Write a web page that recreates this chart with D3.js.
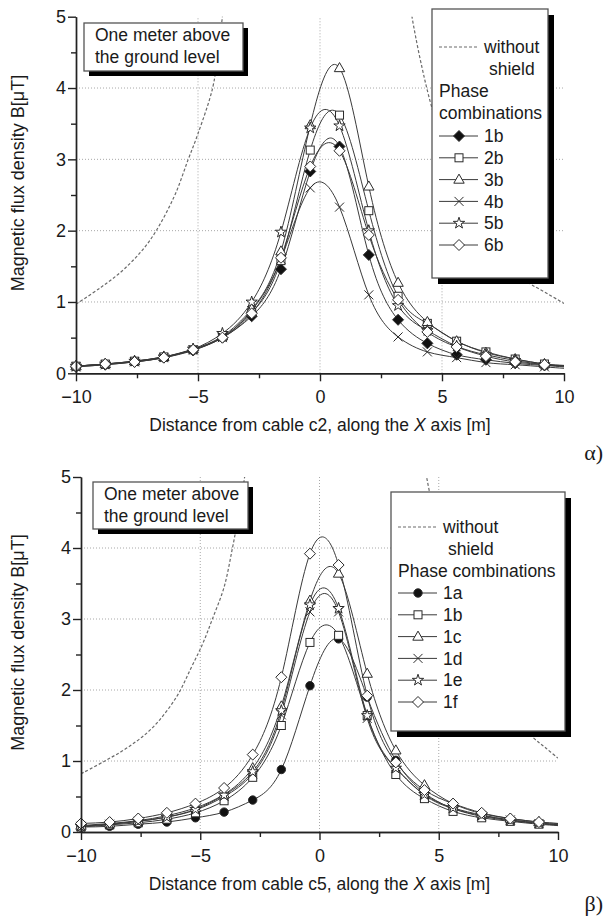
<!DOCTYPE html>
<html lang="en">
<head>
  <meta charset="UTF-8">
  <title>Magnetic flux density</title>
  <script src="https://d3js.org/d3.v7.min.js"></script>
  <style>
    body { margin: 0; background: #fff; }
    text { font-family: "Liberation Sans", Arial, sans-serif; fill: #1a1a1a; }
    .grid line { stroke: #a8a8a8; stroke-dasharray: 1,2; }
    .axis path, .axis line { stroke: #222; stroke-width: 1.4; }
    .axis text { font-size: 18px; }
    .series { fill: none; stroke: #3a3a3a; stroke-width: 1; }
    .noshield { fill: none; stroke: #6a6a6a; stroke-width: 1.2; stroke-dasharray: 3,2; }
    .mark { stroke: #2a2a2a; stroke-width: 1; }
    .letter { font-family: "Liberation Serif", "Times New Roman", serif; font-size: 22px; }
  </style>
</head>
<body>
  <svg width="605" height="919"></svg>
  <script>
    // x positions of the computed points (markers everywhere but the last one)
    const xs = [-10, -8.8, -7.6, -6.4, -5.2, -4.0, -2.8, -1.6, -0.4, 0.8, 2.0, 3.2, 4.4, 5.6, 6.8, 8.0, 9.2, 10];

    // panel α : cable c2
    const namesA = ['1b', '2b', '3b', '4b', '5b', '6b'];
    const symA = ['diamondFill', 'square', 'triangle', 'cross', 'star', 'diamond'];
    const s1b = [0.09, 0.12, 0.16, 0.22, 0.32, 0.50, 0.80, 1.46, 2.83, 3.18, 1.66, 0.75, 0.42, 0.26, 0.19, 0.14, 0.11, 0.09];
    const s2b = [0.10, 0.13, 0.17, 0.23, 0.33, 0.51, 0.85, 1.58, 3.13, 3.62, 2.28, 1.08, 0.70, 0.45, 0.30, 0.20, 0.13, 0.11];
    const s3b = [0.10, 0.13, 0.17, 0.23, 0.34, 0.52, 0.90, 1.71, 3.48, 4.28, 2.62, 1.27, 0.72, 0.45, 0.29, 0.20, 0.13, 0.11];
    const s4b = [0.09, 0.12, 0.16, 0.22, 0.33, 0.50, 0.88, 1.60, 2.60, 2.33, 1.10, 0.51, 0.30, 0.22, 0.15, 0.12, 0.09, 0.07];
    const s5b = [0.10, 0.13, 0.17, 0.23, 0.34, 0.56, 1.00, 1.98, 3.44, 3.47, 2.00, 0.95, 0.60, 0.38, 0.26, 0.18, 0.12, 0.10];
    const s6b = [0.10, 0.13, 0.16, 0.22, 0.33, 0.50, 0.84, 1.62, 2.90, 3.12, 1.94, 1.03, 0.58, 0.37, 0.24, 0.16, 0.12, 0.10];
    // unshielded curve, two visible branches
    const nsA_leftX = [-10, -9, -8, -7, -6, -5.4, -5, -4.4, -4.2, -4.0, -3.85];
    const nsA_leftY = [0.97, 1.2, 1.47, 1.85, 2.46, 3.0, 3.36, 4.0, 4.45, 5.0, 5.5];
    const nsA_rightX = [3.6, 3.77, 4.5, 5, 6, 7, 8, 8.6, 9, 10];
    const nsA_rightY = [5.5, 5.0, 3.83, 3.3, 2.5, 1.9, 1.5, 1.26, 1.18, 0.98];

    // panel β : cable c5
    const namesB = ['1a', '1b', '1c', '1d', '1e', '1f'];
    const symB = ['circleFill', 'square', 'triangle', 'cross', 'star', 'diamond'];
    const s1a = [0.07, 0.08, 0.11, 0.14, 0.20, 0.28, 0.45, 0.88, 2.06, 2.72, 1.90, 1.01, 0.55, 0.33, 0.22, 0.16, 0.12, 0.10];
    const s1bB = [0.07, 0.10, 0.13, 0.18, 0.27, 0.44, 0.77, 1.50, 2.67, 2.77, 1.64, 0.81, 0.47, 0.29, 0.20, 0.15, 0.11, 0.09];
    const s1c = [0.09, 0.12, 0.16, 0.23, 0.34, 0.53, 0.90, 1.77, 3.26, 3.64, 2.23, 1.15, 0.66, 0.40, 0.26, 0.19, 0.14, 0.12];
    const s1d = [0.08, 0.11, 0.15, 0.21, 0.31, 0.50, 0.82, 1.65, 3.10, 3.10, 1.60, 0.90, 0.52, 0.33, 0.23, 0.17, 0.12, 0.10];
    const s1e = [0.08, 0.11, 0.15, 0.21, 0.32, 0.52, 0.85, 1.71, 3.20, 3.15, 1.64, 0.90, 0.53, 0.34, 0.24, 0.17, 0.13, 0.10];
    const s1f = [0.12, 0.14, 0.19, 0.27, 0.40, 0.62, 1.09, 2.18, 3.92, 3.76, 1.92, 0.98, 0.59, 0.40, 0.27, 0.19, 0.14, 0.12];
    const nsB_leftX = [-10, -9, -8, -7, -6, -5.4, -4.9, -4.49, -4.0, -3.65, -3.4, -3.14, -2.95];
    const nsB_leftY = [0.82, 1.0, 1.2, 1.47, 1.9, 2.3, 2.65, 3.0, 3.45, 4.0, 4.45, 5.0, 5.5];
    const nsB_rightX = [4.3, 4.49, 5, 6, 7, 8, 8.93, 9.5, 10];
    const nsB_rightY = [5.4, 5.0, 4.2, 3.0, 2.2, 1.7, 1.34, 1.18, 1.04];

    const xTicks = [-10, -5, 0, 5, 10];
    const xMinor = [-7.5, -2.5, 2.5, 7.5];
    const yTicks = [0, 1, 2, 3, 4, 5];
    const yMinor = [0.5, 1.5, 2.5, 3.5, 4.5];

    const svg = d3.select('svg');

    const panels = [
      {
        id: 'a', x0: 76, x1: 564, y0: 373.3, y1: 16.7,
        series: [s1b, s2b, s3b, s4b, s5b, s6b], names: namesA, sym: symA,
        ns: [[nsA_leftX, nsA_leftY], [nsA_rightX, nsA_rightY]],
        xTitle: ['Distance from cable c2, along the ', 'X', ' axis [m]'], letter: 'α)', letterY: 452,
        note: { x: 84, y: 23, w: 159, h: 48 },
        legend: { x: 432, y: 9, w: 116, h: 269, wide: false }
      },
      {
        id: 'b', x0: 81, x1: 558, y0: 832, y1: 477,
        series: [s1a, s1bB, s1c, s1d, s1e, s1f], names: namesB, sym: symB,
        ns: [[nsB_leftX, nsB_leftY], [nsB_rightX, nsB_rightY]],
        xTitle: ['Distance from cable c5, along the ', 'X', ' axis [m]'], letter: 'β)', letterY: 903,
        note: { x: 93, y: 482, w: 155, h: 47 },
        legend: { x: 391, y: 492, w: 174, h: 239, wide: true }
      }
    ];

    function drawMarker(g, type, cx, cy) {
      const t = `translate(${cx},${cy})`;
      if (type === 'diamond' || type === 'diamondFill') {
        g.append('path').attr('class', 'mark').attr('transform', t)
          .attr('d', 'M0,-5.5L5.5,0L0,5.5L-5.5,0Z')
          .attr('fill', type === 'diamondFill' ? '#111' : '#fff');
      } else if (type === 'square') {
        g.append('rect').attr('class', 'mark').attr('x', cx - 4).attr('y', cy - 4)
          .attr('width', 8).attr('height', 8).attr('fill', '#fff');
      } else if (type === 'triangle') {
        g.append('path').attr('class', 'mark').attr('transform', t)
          .attr('d', 'M0,-5.5L5.2,3.6L-5.2,3.6Z').attr('fill', '#fff');
      } else if (type === 'cross') {
        g.append('path').attr('class', 'mark').attr('transform', t)
          .attr('d', 'M-4.5,-4.5L4.5,4.5M-4.5,4.5L4.5,-4.5').attr('fill', 'none');
      } else if (type === 'star') {
        g.append('path').attr('class', 'mark').attr('transform', t)
          .attr('d', d3.symbol(d3.symbolStar, 40)()).attr('fill', '#fff');
      } else if (type === 'circleFill') {
        g.append('circle').attr('class', 'mark').attr('cx', cx).attr('cy', cy)
          .attr('r', 4.2).attr('fill', '#111');
      }
    }

    panels.forEach(p => {
      const x = d3.scaleLinear().domain([-10, 10]).range([p.x0, p.x1]);
      const y = d3.scaleLinear().domain([0, 5]).range([p.y0, p.y1]);
      const g = svg.append('g');

      g.append('clipPath').attr('id', 'clip-' + p.id)
        .append('rect').attr('x', p.x0).attr('y', p.y1)
        .attr('width', p.x1 - p.x0).attr('height', p.y0 - p.y1);

      // dotted grid
      const grid = g.append('g').attr('class', 'grid');
      grid.selectAll('.gx').data([-5, 0, 5]).enter().append('line')
        .attr('x1', d => x(d)).attr('x2', d => x(d))
        .attr('y1', y(0)).attr('y2', y(5));
      grid.selectAll('.gy').data([1, 2, 3, 4]).enter().append('line')
        .attr('x1', x(-10)).attr('x2', x(10))
        .attr('y1', d => y(d)).attr('y2', d => y(d));

      const plot = g.append('g').attr('clip-path', `url(#clip-${p.id})`);

      // without shield
      const nsLine = d3.line().x(d => x(d[0])).y(d => y(d[1])).curve(d3.curveCatmullRom.alpha(0.5));
      p.ns.forEach(([bx, by]) => {
        plot.append('path').attr('class', 'noshield')
          .attr('d', nsLine(bx.map((v, i) => [v, by[i]])));
      });

      // shielded curves
      const line = d3.line().x(d => x(d[0])).y(d => y(d[1])).curve(d3.curveNatural);
      p.series.forEach(s => {
        plot.append('path').attr('class', 'series')
          .attr('d', line(xs.map((v, i) => [v, s[i]])));
      });
      p.series.forEach((s, k) => {
        xs.forEach((v, i) => {
          if (v < 10) drawMarker(g, p.sym[k], x(v), y(s[i]));
        });
      });

      // axes
      g.append('g').attr('class', 'axis').attr('transform', `translate(0,${p.y0})`)
        .call(d3.axisBottom(x).tickValues(xMinor).tickSize(5).tickFormat('').tickSizeOuter(0));
      g.append('g').attr('class', 'axis').attr('transform', `translate(0,${p.y0})`)
        .call(d3.axisBottom(x).tickValues(xTicks).tickSize(8).tickPadding(9).tickSizeOuter(0).tickFormat(d3.format('d')));
      g.append('g').attr('class', 'axis').attr('transform', `translate(${p.x0},0)`)
        .call(d3.axisLeft(y).tickValues(yMinor).tickSize(5).tickFormat('').tickSizeOuter(0));
      g.append('g').attr('class', 'axis').attr('transform', `translate(${p.x0},0)`)
        .call(d3.axisLeft(y).tickValues(yTicks).tickSize(8).tickPadding(2).tickSizeOuter(0).tickFormat(d3.format('d')));

      // axis titles
      g.append('text')
        .attr('transform', `translate(18,${(p.y0 + p.y1) / 2 - 12}) rotate(-90)`)
        .attr('text-anchor', 'middle').attr('dy', '0.35em')
        .style('font-size', '18px')
        .text('Magnetic flux density B[μT]');
      const xt = g.append('text')
        .attr('x', x(0)).attr('y', p.y0 + 52).attr('dy', '0.35em')
        .attr('text-anchor', 'middle').style('font-size', '17.5px');
      p.xTitle.forEach((t, i) => {
        xt.append('tspan').text(t).style('font-style', i === 1 ? 'italic' : 'normal');
      });
      g.append('text').attr('class', 'letter')
        .attr('x', 603).attr('y', p.letterY).attr('dy', '0.35em')
        .attr('text-anchor', 'end').text(p.letter);

      // "one meter" note
      const n = p.note;
      g.append('rect').attr('x', n.x + 5).attr('y', n.y + 5).attr('width', n.w).attr('height', n.h).attr('fill', '#000');
      g.append('rect').attr('x', n.x).attr('y', n.y).attr('width', n.w).attr('height', n.h)
        .attr('fill', '#fff').attr('stroke', '#555').attr('stroke-width', 1.3);
      g.append('text').attr('x', n.x + 11).attr('y', n.y + 12).attr('dy', '0.35em')
        .style('font-size', '17.5px').text('One meter above');
      g.append('text').attr('x', n.x + 11).attr('y', n.y + 34).attr('dy', '0.35em')
        .style('font-size', '17.5px').text('the ground level');

      // legend
      const L = p.legend;
      g.append('rect').attr('x', L.x + 6).attr('y', L.y + 6).attr('width', L.w).attr('height', L.h).attr('fill', '#000');
      g.append('rect').attr('x', L.x).attr('y', L.y).attr('width', L.w).attr('height', L.h)
        .attr('fill', '#fff').attr('stroke', '#555').attr('stroke-width', 1.3);
      const lx = L.x + 7;
      const top = L.wide ? L.y + 35 : L.y + 38;
      g.append('line').attr('class', 'noshield')
        .attr('x1', lx).attr('x2', lx + 38).attr('y1', top).attr('y2', top);
      g.append('text').attr('x', lx + 45).attr('y', top).attr('dy', '0.35em')
        .style('font-size', '17.5px').text('without');
      g.append('text').attr('x', lx + 50).attr('y', top + 22).attr('dy', '0.35em')
        .style('font-size', '17.5px').text('shield');
      let rowY;
      if (L.wide) {
        g.append('text').attr('x', lx).attr('y', top + 44).attr('dy', '0.35em')
          .style('font-size', '17.5px').text('Phase combinations');
        rowY = top + 66;
      } else {
        g.append('text').attr('x', lx).attr('y', top + 44).attr('dy', '0.35em')
          .style('font-size', '17.5px').text('Phase');
        g.append('text').attr('x', lx).attr('y', top + 66).attr('dy', '0.35em')
          .style('font-size', '17.5px').text('combinations');
        rowY = top + 89;
      }
      p.names.forEach((nm, k) => {
        const ry = rowY + k * 21.8;
        g.append('line').attr('class', 'series')
          .attr('x1', lx).attr('x2', lx + 39).attr('y1', ry).attr('y2', ry);
        drawMarker(g, p.sym[k], lx + 20, ry);
        g.append('text').attr('x', lx + 45).attr('y', ry).attr('dy', '0.35em')
          .style('font-size', '17.5px').text(nm);
      });
    });
  </script>
</body>
</html>
